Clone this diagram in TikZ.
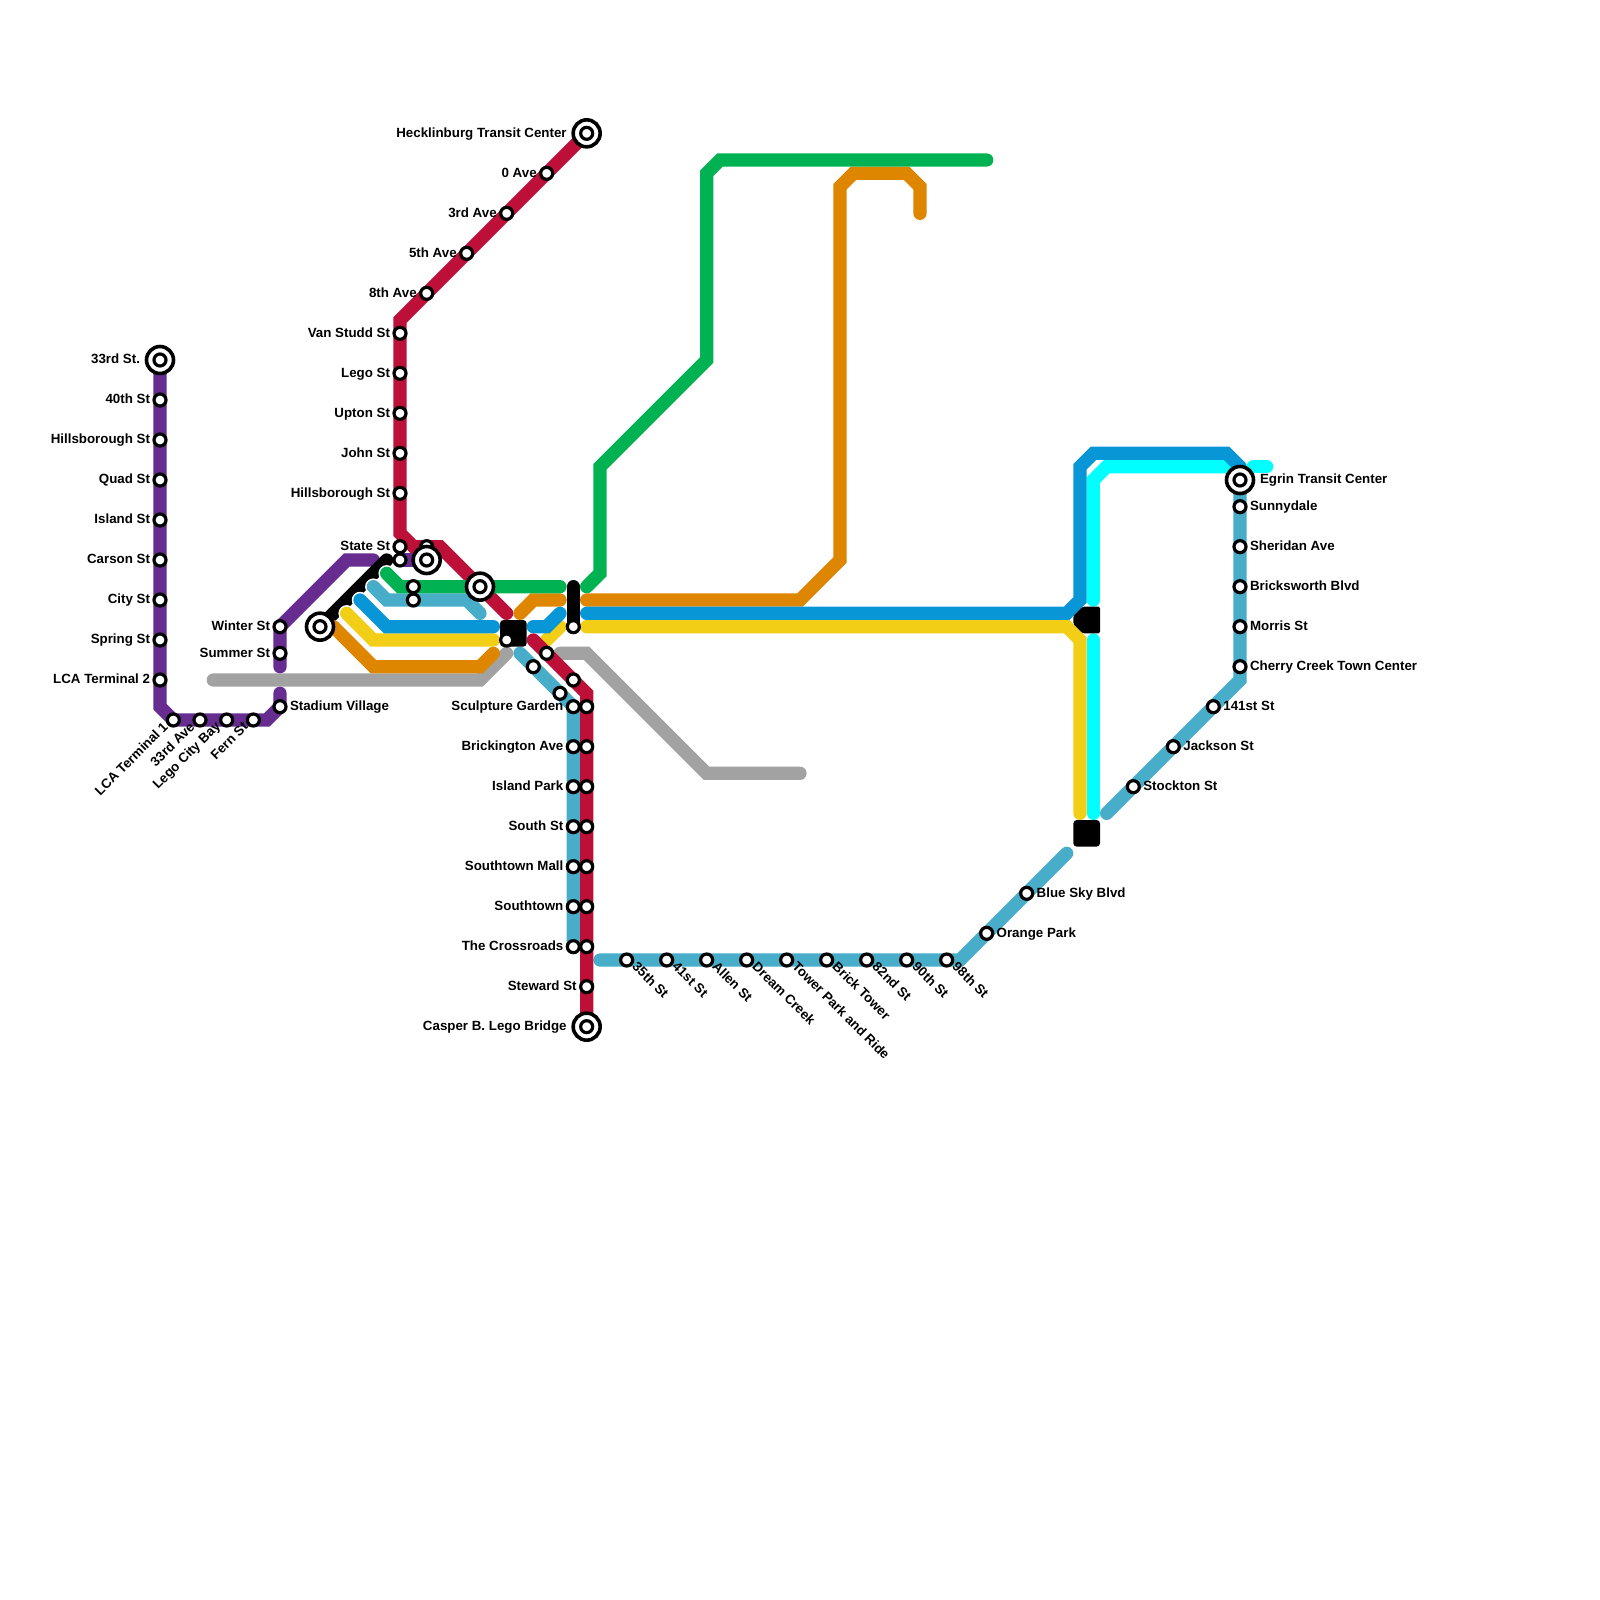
\documentclass[tikz,border=0pt]{standalone}
\usepackage{fontspec}
\setmainfont{Liberation Sans}
\definecolor{mpurple}{HTML}{662C90}
\definecolor{mred}{HTML}{BD1038}
\definecolor{mgreen}{HTML}{00B251}
\definecolor{mteal}{HTML}{48ADC9}
\definecolor{mblue}{HTML}{0896D7}
\definecolor{myellow}{HTML}{F2CE16}
\definecolor{morange}{HTML}{DF8600}
\definecolor{mgray}{HTML}{A2A2A2}
\definecolor{mcyan}{HTML}{00FFFF}
\tikzset{
  metro/.style={line width=13.3pt,line cap=round,line join=miter,miter limit=10},
  halo/.style={line width=16.5pt,line cap=round,white},
  station/.style={circle,draw=black,fill=white,line width=3.2pt,minimum size=12pt,inner sep=0pt,outer sep=0pt},
  bigstation/.style={circle,draw=black,fill=white,line width=3.6pt,minimum size=27pt,inner sep=0pt,outer sep=0pt},
  lbl/.style={font=\fontsize{13.33pt}{15pt}\selectfont\bfseries,inner sep=0pt,outer sep=0pt,text=black},
  lleft/.style={lbl,anchor=base east,xshift=-10pt,yshift=-3.9pt},
  lright/.style={lbl,anchor=base west,xshift=10pt,yshift=-3.9pt},
  bleft/.style={lbl,anchor=base east,xshift=-20pt,yshift=-3.9pt},
  bright/.style={lbl,anchor=base west,xshift=20pt,yshift=-3.9pt},
  ldown/.style={lbl,anchor=east,xshift=-8pt,yshift=-4.5pt,rotate=45},
  rdown/.style={lbl,anchor=west,xshift=8.3pt,yshift=-4.2pt,rotate=-45},
  hub/.style={fill=black,rounded corners=3.5pt},
  hubb/.style={fill=black,rounded corners=1.5pt},
}
\newcommand{\stn}[3]{\node[station] (#1) at (#2,#3) {};}
\newcommand{\stL}[5][lleft]{\node[station] (#2) at (#3,#4) {}; \node[#1] (#2t) at (#3,#4) {#5};}
\newcommand{\bigL}[5][bleft]{\node[bigstation] (#2) at (#3,#4) {}; \node[station] (#2i) at (#3,#4) {}; \node[#1] (#2t) at (#3,#4) {#5};}
\begin{document}
\begin{tikzpicture}[x=13.3333pt,y=-13.3333pt]
\useasboundingbox (0,0) rectangle (120,120);
\foreach \n/\x/\y in {
 pa/12/27,pb/12/53,pc/13/54,pd/20/54,pe/21/53,pf/21/52,pg/21/50,ph/21/47,pi/26/42,pj/28/42,pk/30/42,pl/32/42,
 ra/44/10,rb/30/24,rc/30/40,rd/31/41,re/33/41,rf/38/46,rg/40/48,rh/44/52,ri/44/77,
 ga/29/43,gb/30/44,gc/42/44,gd/44/44,ge/45/43,gf/45/35,gg/53/27,gh/53/13,gi/54/12,gj/74/12,
 ta/28/44,tb/29/45,tc/35/45,td/36/46,te/39/49,tf/43/53,tg/43/71,th/45/72,ti/72/72,tj/80/64,tk/83/61,tl/93/51,tm/93/36,
 ba/27/45,bb/29/47,bc/37/47,bd/40/47,be/41/47,bf/42/46,bg/44/46,bh/80/46,bi/81/45,bj/81/35,bk/82/34,bl/92/34,bm/93/35,
 ya/26/46,yb/28/48,yc/37/48,yd/41/48,ye/42/47,yf/44/47,yg/80/47,yh/81/48,yi/81/61,
 oa/25/47,ob/28/50,oc/36/50,od/37/49,oe/39/46,of/40/45,og/42/45,oh/44/45,oi/60/45,oj/63/42,ok/63/14,ol/64/13,om/68/13,on/69/14,oo/69/16,
 ka/16/51,kb/36/51,kc/38/49,kd/42/49,ke/44/49,kf/53/58,kg/60/58,
 ca/82/45,cb/82/36,cc/83/35,cd/93/35,ce/94/35,cf/95/35,cg/82/48,ch/82/61,
 xa/24/47,xb/29/42,xc/43/44,xd/43/47}
 {\coordinate (\n) at (\x,\y);}
% lines
\draw[metro,mgray] (ka)--(kb)--(kc);
\draw[metro,mgray] (kd)--(ke)--(kf)--(kg);
\draw[metro,mpurple] (pa)--(pb)--(pc)--(pd)--(pe)--(pf);
\draw[metro,mpurple] (pg)--(ph)--(pi)--(pj);
\draw[metro,mpurple] (pk)--(pl);
\draw[metro,black] (xa)--(xb);
\draw[halo] (ga)--(gb);
\draw[halo] (ta)--(tb);
\draw[halo] (ba)--(bb);
\draw[halo] (ya)--(yb);
\draw[metro,mteal] (ta)--(tb)--(tc)--(td);
\draw[metro,mteal] (te)--(tf)--(tg);
\draw[metro,mteal] (th)--(ti)--(tj);
\draw[metro,mteal] (tk)--(tl)--(tm);
\draw[metro,mcyan] (ca)--(cb)--(cc)--(cd);
\draw[metro,mcyan] (ce)--(cf);
\draw[metro,mcyan] (cg)--(ch);
\draw[metro,myellow] (ya)--(yb)--(yc);
\draw[metro,myellow] (yd)--(ye);
\draw[metro,myellow] (yf)--(yg)--(yh)--(yi);
\draw[metro,morange] (oa)--(ob)--(oc)--(od);
\draw[metro,morange] (oe)--(of)--(og);
\draw[metro,morange] (oh)--(oi)--(oj)--(ok)--(ol)--(om)--(on)--(oo);
\draw[metro,mblue] (ba)--(bb)--(bc);
\draw[metro,mblue] (bd)--(be)--(bf);
\draw[metro,mblue] (bg)--(bh)--(bi)--(bj)--(bk)--(bl)--(bm);
\draw[metro,mred] (ra)--(rb)--(rc)--(rd)--(re)--(rf);
\draw[metro,mred] (rg)--(rh)--(ri);
\draw[metro,mgreen] (ga)--(gb)--(gc);
\draw[metro,mgreen] (gd)--(ge)--(gf)--(gg)--(gh)--(gi)--(gj);
\draw[metro,black] (xc)--(xd);
% hubs
\path[hub] (37.5,46.5) rectangle (39.5,48.5);
\path[hub] (80.5,61.5) rectangle (82.5,63.5);
\path[hubb] (81.2,45.5)--(82.5,45.5)--(82.5,47.5)--(81.2,47.5)--(80.5,46.8)--(80.5,46.2)--cycle;
% purple stations
\bigL{s1}{12}{27}{33rd St.}
\stL{s2}{12}{30}{40th St}
\stL{s3}{12}{33}{Hillsborough St}
\stL{s4}{12}{36}{Quad St}
\stL{s5}{12}{39}{Island St}
\stL{s6}{12}{42}{Carson St}
\stL{s7}{12}{45}{City St}
\stL{s8}{12}{48}{Spring St}
\stL{s9}{12}{51}{LCA Terminal 2}
\stL[ldown]{s10}{13}{54}{LCA Terminal 1}
\stL[ldown]{s11}{15}{54}{33rd Ave}
\stL[ldown]{s12}{17}{54}{Lego City Bay}
\stL[ldown]{s13}{19}{54}{Fern St}
\stL[lright]{s14}{21}{53}{Stadium Village}
\stL{s15}{21}{49}{Summer St}
\stL{s16}{21}{47}{Winter St}
\node[bigstation] (s17) at (24,47) {}; \node[station] (s17i) at (24,47) {};
% red stations
\bigL{r1}{44}{10}{Hecklinburg Transit Center}
\stL{r2}{41}{13}{0 Ave}
\stL{r3}{38}{16}{3rd Ave}
\stL{r4}{35}{19}{5th Ave}
\stL{r5}{32}{22}{8th Ave}
\stL{r6}{30}{25}{Van Studd St}
\stL{r7}{30}{28}{Lego St}
\stL{r8}{30}{31}{Upton St}
\stL{r9}{30}{34}{John St}
\stL{r10}{30}{37}{Hillsborough St}
\stL{r11}{30}{41}{State St}
\stn{r12}{30}{42}
\stn{r13}{32}{41}
\node[bigstation] (r14) at (32,42) {}; \node[station] (r14i) at (32,42) {};
\stn{g1}{31}{44}
\stn{g2}{31}{45}
\node[bigstation] (g3) at (36,44) {}; \node[station] (g3i) at (36,44) {};
\stn{h1}{38}{48}
\stn{h2}{43}{47}
\stn{h3}{41}{49}
\stn{h4}{40}{50}
\stn{h5}{43}{51}
\stn{h6}{42}{52}
% teal/red trunk
\stL{u1}{43}{53}{Sculpture Garden}
\stn{v1}{44}{53}
\stL{u2}{43}{56}{Brickington Ave}
\stn{v2}{44}{56}
\stL{u3}{43}{59}{Island Park}
\stn{v3}{44}{59}
\stL{u4}{43}{62}{South St}
\stn{v4}{44}{62}
\stL{u5}{43}{65}{Southtown Mall}
\stn{v5}{44}{65}
\stL{u6}{43}{68}{Southtown}
\stn{v6}{44}{68}
\stL{u7}{43}{71}{The Crossroads}
\stn{v7}{44}{71}
\stL{v8}{44}{74}{Steward St}
\bigL{v9}{44}{77}{Casper B. Lego Bridge}
% bottom
\stL[rdown]{w1}{47}{72}{35th St}
\stL[rdown]{w2}{50}{72}{41st St}
\stL[rdown]{w3}{53}{72}{Allen St}
\stL[rdown]{w4}{56}{72}{Dream Creek}
\stL[rdown]{w5}{59}{72}{Tower Park and Ride}
\stL[rdown]{w6}{62}{72}{Brick Tower}
\stL[rdown]{w7}{65}{72}{82nd St}
\stL[rdown]{w8}{68}{72}{90th St}
\stL[rdown]{w9}{71}{72}{98th St}
\stL[lright]{w10}{74}{70}{Orange Park}
\stL[lright]{w11}{77}{67}{Blue Sky Blvd}
\stL[lright]{w12}{85}{59}{Stockton St}
\stL[lright]{w13}{88}{56}{Jackson St}
\stL[lright]{w14}{91}{53}{141st St}
\stL[lright]{w15}{93}{50}{Cherry Creek Town Center}
\stL[lright]{w16}{93}{47}{Morris St}
\stL[lright]{w17}{93}{44}{Bricksworth Blvd}
\stL[lright]{w18}{93}{41}{Sheridan Ave}
\stL[lright]{w19}{93}{38}{Sunnydale}
\bigL[bright]{w20}{93}{36}{Egrin Transit Center}
\end{tikzpicture}
\end{document}
